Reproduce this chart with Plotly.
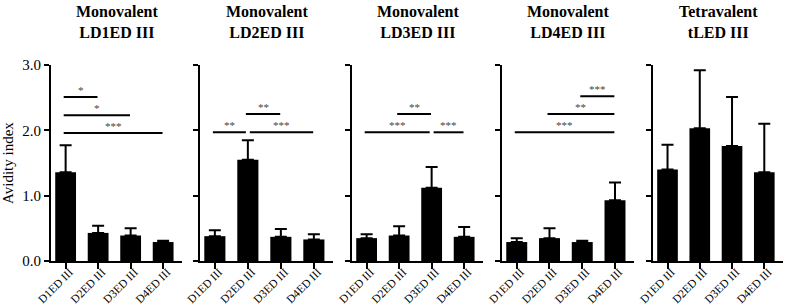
import plotly.graph_objects as go

categories = ["D1ED III", "D2ED III", "D3ED III", "D4ED III"]
panel_titles = ["Monovalent<br>LD1ED III", "Monovalent<br>LD2ED III", "Monovalent<br>LD3ED III",
                "Monovalent<br>LD4ED III", "Tetravalent<br>tLED III"]

means_ld1 = [1.36, 0.43, 0.39, 0.29]
upper_ld1 = [1.77, 0.54, 0.50, 0.31]
means_ld2 = [0.38, 1.55, 0.37, 0.33]
upper_ld2 = [0.47, 1.85, 0.49, 0.41]
means_ld3 = [0.35, 0.39, 1.12, 0.37]
upper_ld3 = [0.41, 0.53, 1.44, 0.52]
means_ld4 = [0.29, 0.35, 0.29, 0.93]
upper_ld4 = [0.35, 0.50, 0.31, 1.20]
means_tled = [1.40, 2.03, 1.76, 1.36]
upper_tled = [1.78, 2.92, 2.51, 2.10]

means = [means_ld1, means_ld2, means_ld3, means_ld4, means_tled]
uppers = [upper_ld1, upper_ld2, upper_ld3, upper_ld4, upper_tled]

# significance brackets: panel index, from category, to category, level, label
sig_panel = [0, 0, 0, 1, 1, 1, 2, 2, 2, 3, 3, 3]
sig_from = [0, 0, 0, 0, 1, 1, 0, 1, 2, 2, 1, 0]
sig_to = [1, 2, 3, 1, 3, 2, 2, 2, 3, 3, 3, 3]
sig_level = [2.51, 2.23, 1.96, 1.97, 1.97, 2.25, 1.97, 2.25, 1.97, 2.52, 2.25, 1.97]
sig_label = ["*", "*", "***", "**", "***", "**", "***", "**", "***", "***", "**", "***"]

yticks = [0, 1, 2, 3]
yticklabels = ["0.0", "1.0", "2.0", "3.0"]

W, H = 787, 304
ML, MR, MT, MB = 0, 0, 65, 43
panel_px = [(51, 182), (200, 333), (352, 483), (502, 634), (653, 783)]
FONT = "Times New Roman, Liberation Serif, DejaVu Serif, serif"

fig = go.Figure()
layout = {}
for i in range(5):
    xa = "x" if i == 0 else f"x{i+1}"
    ya = "y" if i == 0 else f"y{i+1}"
    fig.add_trace(go.Bar(
        x=list(range(4)), y=means[i], xaxis=xa, yaxis=ya,
        marker=dict(color="black", line=dict(width=0)), width=0.64,
        error_y=dict(type="data", symmetric=False,
                     array=[u - m for u, m in zip(uppers[i], means[i])],
                     arrayminus=[0] * 4, color="black", thickness=2, width=6),
        showlegend=False, hoverinfo="skip"))
    x0, x1 = panel_px[i]
    key = "" if i == 0 else str(i + 1)
    layout["xaxis" + key] = dict(
        domain=[x0 / W, x1 / W], range=[-0.45, 3.58], anchor=ya,
        tickvals=list(range(4)), ticktext=categories, tickangle=-45,
        ticklabelstandoff=-8, ticklabelshift=4,
        showline=True, linecolor="black", linewidth=2, ticks="outside",
        ticklen=6, tickwidth=2, tickcolor="black", showgrid=False, zeroline=False,
        tickfont=dict(family=FONT, size=11.5, color="black"), automargin=False, fixedrange=True)
    layout["yaxis" + key] = dict(
        domain=[0, 1], range=[0, 3.0], anchor=xa,
        tickvals=yticks, ticktext=yticklabels, showticklabels=(i == 0),
        showline=True, linecolor="black", linewidth=2, ticks="outside",
        ticklen=5, tickwidth=2, tickcolor="black", showgrid=False, zeroline=False,
        tickfont=dict(family=FONT, size=15, color="black"), automargin=False, fixedrange=True)

annotations = []
ph = H - MT - MB
for i in range(5):
    key = "x" if i == 0 else f"x{i+1}"
    annotations.append(dict(
        text="<b>" + panel_titles[i] + "</b>", xref=key + " domain", x=0.5,
        yref="paper", y=(H - MB - 1) / ph, yanchor="top", xanchor="center",
        showarrow=False, font=dict(family=FONT, size=16, color="black")))

shapes = []
for p, a, b, lvl, lab in zip(sig_panel, sig_from, sig_to, sig_level, sig_label):
    xr = "x" if p == 0 else f"x{p+1}"
    yr = "y" if p == 0 else f"y{p+1}"
    xa0 = a - 0.06
    xb0 = b - 0.02
    others = [(pp, aa, bb, ll) for pp, aa, bb, ll in zip(sig_panel, sig_from, sig_to, sig_level)
              if pp == p and ll == lvl and (aa, bb) != (a, b)]
    for pp, aa, bb, ll in others:
        if aa == b:
            xb0 = b - 0.06
        if bb == a:
            xa0 = a + 0.06
    shapes.append(dict(type="line", xref=xr, yref=yr, x0=xa0, x1=xb0, y0=lvl, y1=lvl,
                       line=dict(color="black", width=2)))
    annotations.append(dict(text=lab, xref=xr, yref=yr, x=(xa0 + xb0) / 2, y=lvl,
                            yanchor="bottom", showarrow=False, yshift=-1,
                            font=dict(family=FONT, size=11, color="#444444")))

annotations.append(dict(text="Avidity index", xref="paper", yref="paper", x=8 / W, y=0.5,
                        textangle=-90, showarrow=False, xanchor="center", yanchor="middle",
                        font=dict(family=FONT, size=15, color="black")))

fig.update_layout(
    width=W, height=H, margin=dict(l=ML, r=MR, t=MT, b=MB),
    paper_bgcolor="white", plot_bgcolor="white",
    annotations=annotations, shapes=shapes, bargap=0.36, **layout)

fig.write_html("out.html", config={"displayModeBar": False},
               post_script="document.body.style.margin='0';")
